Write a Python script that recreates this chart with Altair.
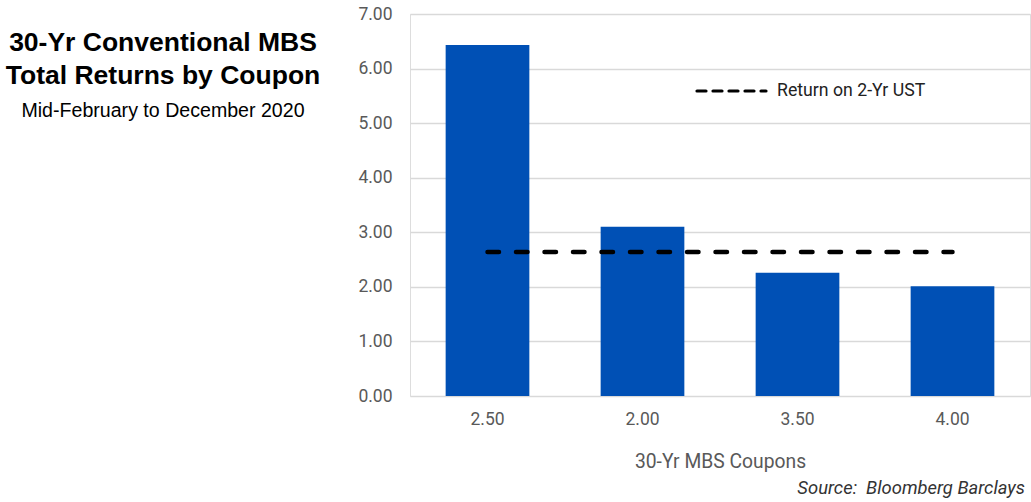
import altair as alt
import pandas as pd

# Total returns (%) by 30-Yr conventional MBS coupon, mid-Feb to Dec 2020
coupons = ["2.50", "2.00", "3.50", "4.00"]
returns = [6.43, 3.10, 2.26, 2.01]

# Return on the 2-Yr Treasury over the same window
ust_label = "Return on 2-Yr UST"
ust_return = 2.64

title_lines = ["30-Yr Conventional MBS", "Total Returns by Coupon"]
subtitle = "Mid-February to December 2020"
source_note = "Source:\u00a0 Bloomberg Barclays"
x_title = "30-Yr MBS Coupons"
y_ticks = [0, 1, 2, 3, 4, 5, 6, 7]

BLUE = "#0050B5"
GREY_TEXT = "#595959"
AXIS_FONT = "Roboto"

bars_df = pd.DataFrame({"coupon": coupons, "ret": returns})
ust_df = pd.DataFrame({"coupon": [coupons[0], coupons[-1]], "ret": [ust_return, ust_return]})

x_enc = alt.X(
    "coupon:N",
    sort=coupons,
    scale=alt.Scale(paddingInner=0.46, paddingOuter=0.23),
    axis=alt.Axis(
        title=x_title,
        labelAngle=0,
        labelFont=AXIS_FONT,
        labelFontSize=17.5,
        labelColor=GREY_TEXT,
        labelPadding=14,
        ticks=False,
        domain=False,
        titleFont=AXIS_FONT,
        titleFontSize=19.3,
        titleFontWeight="normal",
        titleColor=GREY_TEXT,
        titleY=71,
        titleBaseline="alphabetic",
    ),
)
y_enc = alt.Y(
    "ret:Q",
    scale=alt.Scale(domain=[0, 7], nice=False),
    axis=alt.Axis(
        title=None,
        values=y_ticks,
        format=".2f",
        labelFont=AXIS_FONT,
        labelFontSize=17.5,
        labelColor=GREY_TEXT,
        labelPadding=18,
        ticks=False,
        domain=False,
        grid=True,
        gridColor="#D9D9D9",
        gridWidth=1.3,
    ),
)

bars = alt.Chart(bars_df).mark_bar(color=BLUE).encode(x=x_enc, y=y_enc)

ust_line = alt.Chart(ust_df).mark_line(
    color="black", strokeWidth=4.5, strokeDash=[11.5, 17], strokeCap="round"
).encode(x=alt.X("coupon:N", sort=coupons), y="ret:Q")

# Manual legend entry for the UST line
legend_df = pd.DataFrame({"label": [ust_label]})
legend_line = alt.Chart(legend_df).mark_rule(
    color="black", strokeWidth=3.2, strokeDash=[9, 7], strokeCap="round"
).encode(x=alt.value(287), x2=alt.value(356), y=alt.value(77))
legend_text = alt.Chart(legend_df).mark_text(
    align="left", baseline="middle", font=AXIS_FONT, fontSize=17.7, color="#222222"
).encode(x=alt.value(367), y=alt.value(77), text="label:N")

# Headline block to the left of the plot
headline = alt.Chart(pd.DataFrame({"t": ["\n".join(title_lines)]})).mark_text(
    align="center", baseline="alphabetic", font="Liberation Sans", fontWeight="bold",
    fontSize=26.5, color="black", lineBreak="\n", lineHeight=33
).encode(x=alt.value(-247), y=alt.value(37), text="t:N")
sub = alt.Chart(pd.DataFrame({"t": [subtitle]})).mark_text(
    align="center", baseline="alphabetic", font="Liberation Sans", fontSize=19.6, color="black"
).encode(x=alt.value(-247), y=alt.value(103), text="t:N")

src = alt.Chart(pd.DataFrame({"t": [source_note]})).mark_text(
    align="right", baseline="alphabetic", font=AXIS_FONT, fontSize=18.4, fontStyle="italic",
    color="#333333"
).encode(x=alt.value(615), y=alt.value(480), text="t:N")

chart = (
    alt.layer(bars, ust_line, legend_line, legend_text, headline, sub, src)
    .properties(
        width=620,
        height=382,
        autosize=alt.AutoSizeParams(type="none"),
        padding={"left": 410, "top": 14, "right": 1, "bottom": 106},
    )
    .configure_view(stroke=None)
    .configure(background="white")
)

chart.save("out.html", embed_options={"renderer": "svg", "actions": False})
